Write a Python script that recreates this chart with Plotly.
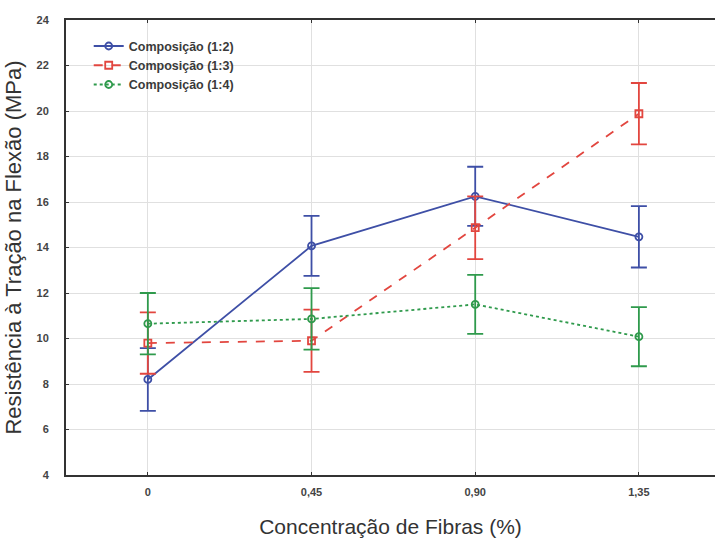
import plotly.graph_objects as go

categories = ["0", "0,45", "0,90", "1,35"]
x_idx = [0, 1, 2, 3]

series_names = ["Composição (1:2)", "Composição (1:3)", "Composição (1:4)"]
comp_12 = [8.2, 14.07, 16.25, 14.47]
comp_12_err = [1.38, 1.32, 1.3, 1.35]
comp_13 = [9.8, 9.9, 14.87, 19.88]
comp_13_err = [1.35, 1.37, 1.38, 1.35]
comp_14 = [10.65, 10.86, 11.5, 10.08]
comp_14_err = [1.35, 1.35, 1.3, 1.3]

y_ticks = [4, 6, 8, 10, 12, 14, 16, 18, 20, 22, 24]

colors = ["#3e4fa6", "#e2463f", "#2f9a4c"]
dashes = ["solid", "dash", "dot"]
symbols = ["circle-open", "square-open", "circle-open"]

fig = go.Figure()
for name, ys, errs, c, d, s in zip(series_names, [comp_12, comp_13, comp_14],
                                   [comp_12_err, comp_13_err, comp_14_err],
                                   colors, dashes, symbols):
    fig.add_trace(go.Scatter(
        x=x_idx, y=ys, name=name, mode="lines+markers",
        line=dict(color=c, width=1.8, dash=d),
        marker=dict(symbol=s, size=7, color=c, line=dict(width=1.8, color=c)),
        error_y=dict(type="data", array=errs, visible=True, color=c,
                     thickness=1.8, width=8),
    ))

fam = "Arial, Liberation Sans, sans-serif"
tick_font = dict(family=fam, size=11, color="#444444", weight="bold")
fig.update_layout(
    width=715, height=541,
    margin=dict(l=66, r=0, t=20, b=66),
    paper_bgcolor="white", plot_bgcolor="white",
    font=dict(family=fam, color="#333333"),
    showlegend=True,
    legend=dict(x=0.035, y=0.975, xanchor="left", yanchor="top",
                bgcolor="rgba(0,0,0,0)", borderwidth=0,
                font=dict(size=12.5, color="#3a3a3a", weight="bold"),
                tracegroupgap=0, itemwidth=30),
    xaxis=dict(
        range=[-0.5, 3.465], tickmode="array", tickvals=x_idx, ticktext=categories,
        showgrid=True, gridcolor="#e0e0e0", gridwidth=1,
        showline=True, linecolor="#333333", linewidth=2, mirror="ticks",
        ticks="inside", ticklen=3, tickcolor="#333333",
        tickfont=tick_font, zeroline=False, ticklabelstandoff=6,
        title=dict(text="Concentração de Fibras (%)", standoff=22,
                   font=dict(size=21, color="#333333")),
    ),
    yaxis=dict(
        range=[4, 24], tickmode="array", tickvals=y_ticks,
        showgrid=True, gridcolor="#e0e0e0", gridwidth=1,
        showline=True, linecolor="#333333", linewidth=2, mirror=False,
        ticks="inside", ticklen=3, tickcolor="#333333",
        tickfont=tick_font, zeroline=False, ticklabelstandoff=13,
        title=dict(text="Resistência à Tração na Flexão (MPa)", standoff=9,
                   font=dict(size=22, color="#333333")),
    ),
)

fig.write_html("out.html")
